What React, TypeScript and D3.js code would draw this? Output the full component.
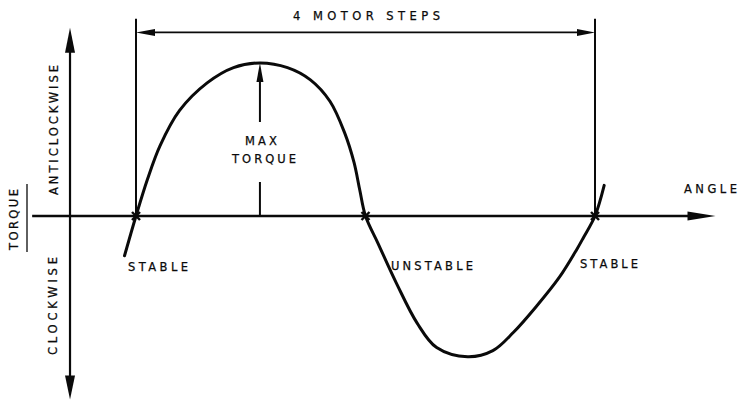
import React from "react";
import * as d3 from "d3";

const W = 739;
const H = 401;

// Rotor displacement, in motor steps (one full torque cycle spans 4 steps)
const angleSteps = [
  -0.1, 0, 0.1, 0.21, 0.38, 0.62, 0.85, 1.08, 1.32, 1.52, 1.69, 1.82, 1.9, 1.95, 2.0,
  2.11, 2.27, 2.45, 2.62, 2.89, 3.11, 3.29, 3.49, 3.69, 3.84, 3.9, 4.0, 4.08,
];
// Restoring torque relative to its maximum (anticlockwise positive)
const torqueValues = [
  -0.26, 0, 0.24, 0.46, 0.69, 0.87, 0.97, 1.0, 0.97, 0.89, 0.75, 0.54, 0.35, 0.17, 0,
  -0.18, -0.44, -0.7, -0.86, -0.92, -0.88, -0.76, -0.59, -0.4, -0.22, -0.14, 0, 0.2,
];

// Equilibrium positions on the angle axis
const stablePoints = [0, 4];
const unstablePoints = [2];
const peakStep = 1.08;

// Axis extents (steps / relative torque)
const angleAxisStart = -0.905;
const angleAxisEnd = 5.05;
const torqueAxisAt = -0.575;
const torqueAxisTop = 1.23;
const torqueAxisBottom = -1.2;
const spanLineLevel = 1.2;
const spanGuideTop = 1.29;

const spanLabel = "4 MOTOR STEPS";
const angleLabel = "ANGLE";
const torqueLabel = "TORQUE";
const upLabel = "ANTICLOCKWISE";
const downLabel = "CLOCKWISE";
const stableLabel = "STABLE";
const unstableLabel = "UNSTABLE";
const maxLabel = ["MAX", "TORQUE"];

const x = d3.scaleLinear().domain([0, 4]).range([136, 595]);
const y = d3.scaleLinear().domain([0, 1]).range([216, 63]);

const curvePts: [number, number][] = angleSteps.map((s, i) => [s, torqueValues[i]]);
const lineGen = d3
  .line<[number, number]>()
  .x((d) => x(d[0]))
  .y((d) => y(d[1]))
  .curve(d3.curveCatmullRom.alpha(0.5));

const INK = "#0a0a0a";
const FONT = "'DejaVu Sans', 'Liberation Sans', sans-serif";

function Arrow({ tipX, tipY, dir, len, half }: { tipX: number; tipY: number; dir: "up" | "down" | "left" | "right"; len: number; half: number }) {
  let pts: number[][];
  if (dir === "up") pts = [[tipX, tipY], [tipX - half, tipY + len], [tipX + half, tipY + len]];
  else if (dir === "down") pts = [[tipX, tipY], [tipX - half, tipY - len], [tipX + half, tipY - len]];
  else if (dir === "left") pts = [[tipX, tipY], [tipX + len, tipY - half], [tipX + len, tipY + half]];
  else pts = [[tipX, tipY], [tipX - len, tipY - half], [tipX - len, tipY + half]];
  return <polygon points={pts.map((p) => p.join(",")).join(" ")} fill={INK} />;
}

function Cross({ cx, cy }: { cx: number; cy: number }) {
  const r = 4;
  return (
    <g stroke={INK} strokeWidth={2.4}>
      <line x1={cx - r} y1={cy - r} x2={cx + r} y2={cy + r} />
      <line x1={cx - r} y1={cy + r} x2={cx + r} y2={cy - r} />
    </g>
  );
}

export default function App() {
  const y0 = y(0);
  const axL = x(angleAxisStart);
  const axR = x(angleAxisEnd);
  const vx = x(torqueAxisAt);
  const vTop = y(torqueAxisTop);
  const vBot = y(torqueAxisBottom);
  const spanY = y(spanLineLevel);
  const guideTop = y(spanGuideTop);
  const sL = x(stablePoints[0]);
  const sR = x(stablePoints[1]);
  const px = x(peakStep);
  const py = y(1);

  const txt = { fontFamily: FONT, fontSize: 11.5, fill: INK, stroke: INK, strokeWidth: 0.25 } as const;

  return (
    <svg
      width={W}
      height={H}
      viewBox={`0 0 ${W} ${H}`}
      style={{ position: "absolute", left: 0, top: 0, background: "#fff" }}
    >
      <rect width={W} height={H} fill="#fff" />

      {/* angle axis */}
      <line x1={axL} y1={y0} x2={axR - 20} y2={y0} stroke={INK} strokeWidth={2.5} />
      <Arrow tipX={axR} tipY={y0} dir="right" len={28} half={4.5} />
      <text {...txt} x={684} y={193} textLength={53} lengthAdjust="spacing">{angleLabel}</text>

      {/* torque axis */}
      <line x1={vx} y1={vTop + 20} x2={vx} y2={vBot - 20} stroke={INK} strokeWidth={2.2} />
      <Arrow tipX={vx} tipY={vTop} dir="up" len={25} half={5} />
      <Arrow tipX={vx} tipY={vBot} dir="down" len={24} half={5} />
      <text {...txt} transform={`translate(58,195) rotate(-90)`} textLength={130} lengthAdjust="spacing">{upLabel}</text>
      <text {...txt} transform={`translate(57,355) rotate(-90)`} textLength={98} lengthAdjust="spacing">{downLabel}</text>
      <text {...txt} transform={`translate(18,250) rotate(-90)`} textLength={61} lengthAdjust="spacing">{torqueLabel}</text>
      <line x1={27} y1={184} x2={27} y2={252} stroke={INK} strokeWidth={1.3} />

      {/* 4-step span dimension */}
      <line x1={sL} y1={guideTop} x2={sL} y2={y0} stroke={INK} strokeWidth={2} />
      <line x1={sR} y1={guideTop} x2={sR} y2={y0} stroke={INK} strokeWidth={2} />
      <line x1={sL + 10} y1={spanY} x2={sR - 10} y2={spanY} stroke={INK} strokeWidth={1.8} />
      <Arrow tipX={sL} tipY={spanY} dir="left" len={19} half={3.5} />
      <Arrow tipX={sR} tipY={spanY} dir="right" len={18} half={3.5} />
      <text {...txt} x={293} y={20} textLength={147} lengthAdjust="spacing">{spanLabel}</text>

      {/* max torque marker */}
      <line x1={px} y1={py + 12} x2={px} y2={122} stroke={INK} strokeWidth={2} />
      <Arrow tipX={px} tipY={py} dir="up" len={19} half={3.5} />
      <line x1={px} y1={182} x2={px} y2={y0} stroke={INK} strokeWidth={2} />
      <text {...txt} x={245} y={145} textLength={32} lengthAdjust="spacing">{maxLabel[0]}</text>
      <text {...txt} x={232} y={163} textLength={64} lengthAdjust="spacing">{maxLabel[1]}</text>

      {/* torque curve */}
      <path d={lineGen(curvePts) ?? ""} fill="none" stroke={INK} strokeWidth={3} strokeLinejoin="round" strokeLinecap="round" />

      {/* equilibrium marks */}
      {stablePoints.concat(unstablePoints).map((s) => (
        <Cross key={s} cx={x(s)} cy={y0} />
      ))}

      <text {...txt} x={128} y={271} textLength={60} lengthAdjust="spacing">{stableLabel}</text>
      <text {...txt} x={391} y={270} textLength={82} lengthAdjust="spacing">{unstableLabel}</text>
      <text {...txt} x={580} y={268} textLength={58} lengthAdjust="spacing">{stableLabel}</text>
    </svg>
  );
}
